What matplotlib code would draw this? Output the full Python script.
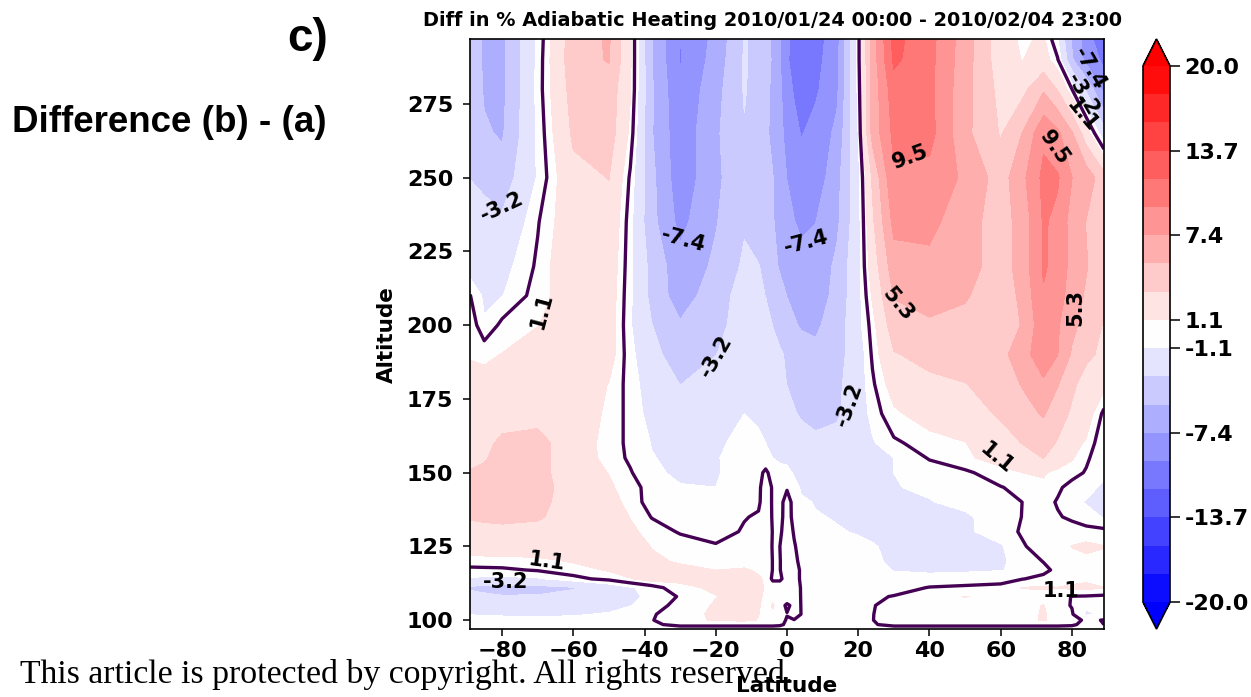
import numpy as np
import matplotlib
matplotlib.use("Agg")
import matplotlib.pyplot as plt

# grid, latitude columns and altitude rows
lats = [-89, -85, -80, -70, -60, -50, -44, -38, -30, -20, -12, -8, -6, -4, -2, 0, 2, 4, 8, 14, 20,
        24, 30, 40, 50, 60, 66, 72, 76, 80, 84, 89]
alts = [97, 98.5, 100, 102, 105, 108, 111, 114, 117, 120, 125, 130, 135, 140, 145, 150, 155, 160,
        170, 180, 190, 200, 210, 220, 235, 250, 265, 280, 290, 297]

diff_pct = [
    [-.3, -.3, -.3, -.3, -.3, -.3, -.3, -.3, -.3, -.3, -.3, -.3, -.3, -.3, -.3, -.3, -.3, -.3, -.3, -.3, -.3, -.3, -.3, -.3, -.3, -.3, -.3, -.3, -.3, -.3, -.3, -.3],
    [-.3, -.3, -.3, -.3, -.3, -.3, -.2, -.1, .15, .15, .15, .15, .15, .15, .1, -.1, -.1, -.1, -.1, -.1, -.1, -.05, .15, .15, .15, .15, .15, .15, .15, .1, -.2, 0],
    [-.6, -.65, -.7, -.7, -.6, -.5, -.2, -.05, .6, 1.2, 1.3, 1, .7, .7, .4, -.1, -.05, -.3, -.1, -.1, -.1, -.02, .4, .4, .4, .4, .6, 1.2, .6, .4, -.2, .05],
    [-1.1, -1.15, -1.2, -1.3, -1.2, -.9, -.5, -.1, .5, 1.3, 1.4, 1.1, .6, .9, .5, .05, .5, -.02, -.1, -.1, -.05, -.02, .3, .5, .4, .4, .5, 1.2, .5, .1, -1.2, -.9],
    [-1.7, -2, -2.2, -2.2, -2, -1.6, -1.1, -.4, .3, 1.2, 1.4, 1.2, .6, 1.2, .5, -.2, .3, -.02, -.1, -.1, -.1, -.05, .3, .6, .6, .6, .7, 1.1, .3, -.05, -.9, -.8],
    [-2.4, -2.7, -3, -3, -2.6, -2.2, -1.4, -.7, .1, 1, 1.5, 1.2, .9, .7, .5, .8, .5, -.05, -.2, -.2, -.2, -.15, .05, .6, 1.1, .7, .6, .6, .5, -.05, -.1, -.2],
    [-3.5, -3.8, -4, -3.8, -3.3, -2, -1.2, -.5, .7, 1.3, 1.5, 1.2, 1, .8, .8, .6, .4, -.05, -.3, -.3, -.3, -.3, -.4, .05, .2, .3, 1.1, 1.2, 1.1, 1.3, 1.4, 1.1],
    [-1.2, -1.3, -1.4, -1.2, -.3, .3, 1, 1.6, 1.4, 1.3, 1.2, 1.1, 1, -.25, -.25, .6, .3, -.1, -.4, -.5, -.5, -.5, -.7, -.6, -.6, -.4, -.05, .3, .3, .6, .8, .5],
    [-.3, -.25, -.2, .1, .5, 1.2, 1.6, 1.8, 1.4, 1.05, 1.1, 1, .9, -.05, -.05, .7, .3, -.1, -.5, -.7, -.7, -.7, -1.1, -1.3, -1.2, -1.1, -.8, -.3, .3, .4, .5, .3],
    [.6, .6, .6, .7, 1.2, 1.8, 1.8, 1.3, .9, .8, .9, .9, .9, -.05, -.05, .7, .2, -.2, -.6, -.8, -.8, -.8, -1.3, -1.5, -1.4, -1.2, -.7, .05, .3, .6, .8, .8],
    [1.8, 1.9, 2, 2.1, 2.2, 2.2, 1.8, 1, .5, .1, .5, .7, .8, -.1, 0, .6, .05, -.2, -.7, -.9, -.9, -1, -1.2, -1.4, -1.3, -1.2, -.1, .4, .5, 1.1, 1.3, 1.1],
    [2.3, 2.6, 2.8, 2.8, 2.5, 2.1, 1.4, .5, -.1, -.4, .1, .3, .7, -.05, -.1, .3, -.05, -.4, -.9, -1, -1.1, -1.2, -1.3, -1.4, -1.3, -.4, .1, .3, .2, .5, .5, .3],
    [3.4, 3.5, 3.5, 3.3, 2.6, 2, 1, -.05, -.5, -.5, -.05, .1, .6, -.1, -.2, .3, -.2, -.5, -1, -1.1, -1.2, -1.3, -1.3, -1.4, -1.2, -.6, .02, .5, .1, -.2, -.8, -1.1],
    [3.5, 3.7, 4, 3.5, 2.6, 1.7, .6, -.5, -.8, -.6, -.2, -.15, .5, -.1, -.3, .4, -.3, -.9, -1.1, -1.2, -1.3, -1.3, -1.2, -1.1, -.8, -.5, 0, .4, -.1, -.9, -1.1, -1.2],
    [3.4, 3.7, 4.2, 3.8, 2.4, 1.3, .4, -.4, -1, -1.05, -.1, -.2, .5, -.1, -.3, -.1, -.6, -1.2, -1.3, -1.4, -1.4, -1.3, -1.1, -.9, -.5, -.05, .3, .8, .2, -.4, -.8, -1.2],
    [3.3, 3.5, 4, 3.7, 2.2, 1, .1, -.9, -1.2, -1.2, -.3, -.3, .2, -.4, -.6, -.7, -1.2, -1.3, -1.5, -1.6, -1.4, -1.3, -1.05, -.6, -.2, .6, 1.05, 1.2, .7, .4, -.1, -.9],
    [2.6, 3, 3.8, 3.8, 2, .6, -.2, -1, -1.3, -1.2, -.2, -.5, -.6, -1.05, -1.3, -1.4, -1.3, -1.6, -1.8, -1.9, -1.7, -1.5, -1.05, .1, .8, 1.7, 2.4, 3.2, 2.1, 1.2, .2, -.8],
    [1.9, 2.6, 3.6, 3.9, 1.9, .6, -.3, -1.1, -1.5, -1.5, -.3, -.8, -1.05, -1.4, -1.6, -1.8, -2, -2.3, -2.7, -2.6, -1.9, -1.2, -.2, .5, 1, 2.4, 3.2, 3.9, 3, 1.5, .9, -1],
    [1.6, 1.9, 2.2, 2.4, 2, .8, -.4, -1.5, -2.4, -1.8, -1.05, -1.3, -1.5, -1.7, -2, -2.4, -3, -3.4, -3.8, -3.4, -2, -.6, .8, 1.8, 2.3, 3.4, 4.4, 5.5, 4, 2.9, 1.9, -.3],
    [1.3, 1.5, 1.8, 2.1, 2.2, 1, -.5, -1.8, -3.2, -2.2, -1.4, -1.5, -1.6, -1.8, -2.6, -3.2, -3.6, -3.8, -4.2, -3.6, -1.9, -.2, 1.8, 2.7, 3.1, 4, 5.4, 7, 5.4, 3.5, 2.5, 1.5],
    [1, .8, 1.1, 2, 2, 1.8, -.7, -2.2, -4.7, -3.2, -1.9, -1.9, -2, -2.4, -2.9, -3.4, -3.8, -4.2, -4.8, -3.9, -2, .2, 3, 3.8, 4.2, 4.6, 6.5, 8.7, 7.4, 5, 3.5, 2.8],
    [.8, -.9, .3, 1, 1.9, 1.9, -.9, -3.1, -5, -3.8, -2.2, -1.8, -2.4, -3.2, -3.9, -4.4, -5, -5.5, -5.6, -4.3, -1.5, .5, 4.3, 4.8, 4.6, 3.8, 5.4, 8.8, 7.6, 5.8, 4.5, 3],
    [.05, -1.3, -1.1, .5, 2, 2, -.8, -3.7, -6.4, -4, -2.4, -2.6, -3.2, -3.7, -4.5, -5.3, -5.8, -6.2, -6.4, -4.6, -1.6, 1.3, 5.4, 6.5, 5.5, 3.8, 5.8, 9.3, 8.4, 6.3, 5, 3.5],
    [-1.8, -1.9, -1.6, .2, 2.6, 2.2, -.7, -3.8, -6.6, -4.9, -2.8, -3.1, -3.5, -4.6, -5.5, -6, -6.4, -6.6, -6.8, -4.8, -1.5, 2, 6.4, 6.8, 6.2, 4.2, 6.2, 9.7, 8.9, 6.6, 5.4, 4],
    [-2.2, -2.5, -2.8, -.1, 2.3, 2.6, -.6, -4.6, -8, -5.4, -3.4, -3.9, -4.3, -5.1, -6, -6.8, -7.3, -7.8, -7.4, -5.7, -1.6, 2.8, 8, 8, 6, 4.4, 6, 9.7, 9, 6.5, 5.2, 4],
    [-3.2, -3.6, -4.3, -.9, 2.6, 3.2, -.2, -4.7, -8.7, -5.8, -3.4, -4, -4.4, -5.2, -6.3, -7.4, -8, -8.4, -8.6, -6, -1.5, 3.5, 9.2, 8.8, 7, 4.3, 6.8, 10, 9.7, 7.4, 6.5, 4],
    [-3.6, -5, -5.5, -.8, 3.5, 4.2, .7, -5.1, -8.8, -5.6, -3.3, -4.2, -4.9, -5.7, -6.8, -8, -8.8, -9.6, -8.8, -6.9, -1, 6, 10, 10.2, 5.8, 3, 5.3, 9, 7.8, 5.5, 2, -2.2],
    [-3.6, -5.5, -5.8, -.6, 4, 4.4, 1.2, -5, -9.2, -6, -3, -3.9, -4.8, -5.6, -7, -8.6, -9.7, -10.2, -9.8, -7.8, -.6, 6, 10.7, 10, 6, 2.5, 2.5, 5, 3, 0, -3.5, -8],
    [-3.7, -5.6, -5.8, -.7, 4.4, 5.4, 1.3, -5.2, -9.6, -6.5, -3, -3.7, -4.5, -5.5, -7.2, -9.3, -10, -10.3, -10.2, -8, -.4, 6.2, 12, 10.1, 6.2, 2, 1, 1.8, .1, -5, -8, -10],
    [-3.8, -5.6, -5.8, -.8, 4.3, 5.5, 1.3, -5.2, -9.5, -6.8, -3, -3.8, -4.6, -5.6, -7.3, -9.1, -10, -10.3, -10.4, -8.2, -.4, 6.4, 12.2, 10.2, 6.3, 1.8, .8, 1.3, -1, -5.5, -8.5, -11],
]

xtick_vals = [-80, -60, -40, -20, 0, 20, 40, 60, 80]
ytick_vals = [100, 125, 150, 175, 200, 225, 250, 275]

# text, lat, alt, rotation of the inline contour labels
inline_labels = [
    ("-3.2", -80, 240, 25), ("1.1", -69, 205, 75), ("1.1", -67.5, 120, -8), ("-3.2", -79, 113, 0),
    ("-7.4", -29, 229, -15), ("-3.2", -20, 189.5, 60), ("-7.4", 5.5, 228, 15), ("-3.2", 17.5, 173, 70),
    ("5.3", 31, 207, -50), ("9.5", 34.5, 257, 20), ("9.5", 75, 260, -55), ("5.3", 81, 206, 90),
    ("1.1", 59, 155, -40), ("1.1", 77, 110, 0), ("-7.4", 85, 287, -60), ("-3.2", 83, 278, -60),
    ("1.1", 83, 271, -50),
]

W, H = 1251, 697
LINE_COLOR = "#440154"


def px_axes(fig, left, top, right, bottom):
    return fig.add_axes([left / W, 1 - bottom / H, (right - left) / W, (bottom - top) / H])


levels = np.linspace(-20, 20, 20)

fig = plt.figure(figsize=(W / 100, H / 100), dpi=100)
ax = px_axes(fig, 470, 39, 1104, 629)

cf = ax.contourf(lats, alts, diff_pct, levels=levels, cmap="bwr", extend="both")
ax.contour(lats, alts, diff_pct, levels=[0], colors=LINE_COLOR, linewidths=2.4)

for txt, lat, alt, rot in inline_labels:
    ax.text(lat, alt, txt, fontsize=15, fontweight="bold", rotation=rot, ha="center", va="center",
            rotation_mode="anchor")

ax.set_xlim(-89, 89)
ax.set_ylim(97, 297)
ax.set_xticks(xtick_vals)
ax.set_yticks(ytick_vals)
ax.tick_params(length=5, width=1.1, labelsize=16)
ax.tick_params(axis="y", pad=7)
for lab in ax.get_xticklabels() + ax.get_yticklabels():
    lab.set_fontweight("bold")
for spine in ax.spines.values():
    spine.set_linewidth(1.2)

cax = px_axes(fig, 1143, 39, 1170, 629)
cbar = fig.colorbar(cf, cax=cax)
cbar_ticks = [levels[i] for i in (0, 3, 6, 9, 10, 13, 16, 19)]
cbar.set_ticks(cbar_ticks, labels=[f"{v:.1f}" for v in cbar_ticks])
cbar.ax.tick_params(length=7, width=1.1, labelsize=16)
for lab in cbar.ax.get_yticklabels():
    lab.set_fontweight("bold")
cbar.outline.set_linewidth(1.2)

fig.text(772.5 / W, 1 - 20 / H, "Diff in % Adiabatic Heating 2010/01/24 00:00 - 2010/02/04 23:00",
         fontsize=13.85, fontweight="bold", ha="center", va="center")
fig.text(387 / W, 1 - 335 / H, "Altitude", fontsize=15.5, fontweight="bold", rotation=90,
         ha="center", va="center")
fig.text(787 / W, 1 - 686 / H, "Latitude", fontsize=15.5, fontweight="bold", ha="center", va="center")

fig.text(287 / W, 1 - 39 / H, "c)", family="Liberation Sans", fontsize=33, fontweight="bold",
         ha="left", va="center")
fig.text(12 / W, 1 - 122 / H, "Difference (b) - (a)", family="Liberation Sans", fontsize=26.5,
         fontweight="bold", ha="left", va="center")
fig.text(20 / W, 1 - 674 / H, "This article is protected by copyright. All rights reserved.",
         family="Liberation Serif", fontsize=24.3, ha="left", va="center")

fig.savefig("out.png", dpi=100)
